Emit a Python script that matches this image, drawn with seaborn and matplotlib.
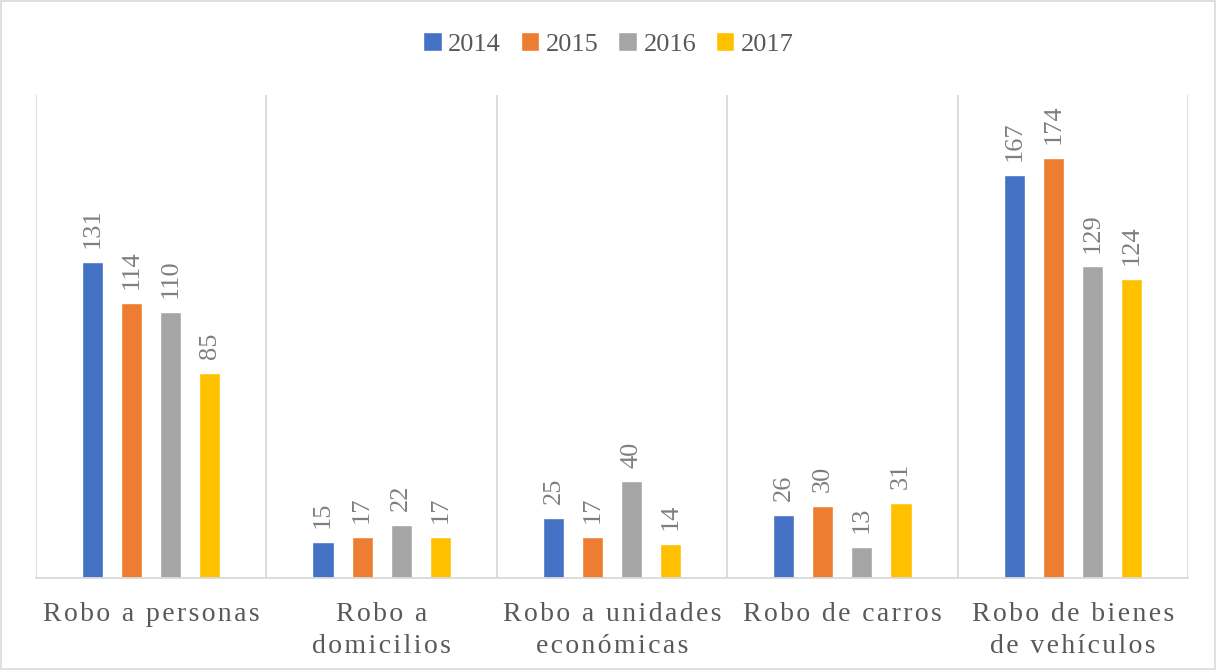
import matplotlib
matplotlib.use("Agg")
import matplotlib.pyplot as plt
import seaborn as sns
import pandas as pd
from matplotlib.patches import Rectangle

categories = ["Robo a personas", "Robo a\ndomicilios", "Robo a unidades\neconómicas",
              "Robo de carros", "Robo de bienes\nde vehículos"]
years = ["2014", "2015", "2016", "2017"]
v2014 = [131, 15, 25, 26, 167]
v2015 = [114, 17, 17, 30, 174]
v2016 = [110, 22, 40, 13, 129]
v2017 = [85, 17, 14, 31, 124]
colors = ["#4472C4", "#ED7D31", "#A5A5A5", "#FFC000"]

rows = []
for year, vals in zip(years, [v2014, v2015, v2016, v2017]):
    for cat, v in zip(categories, vals):
        rows.append({"cat": cat, "year": year, "value": v})
df = pd.DataFrame(rows)

sns.set_style("white")
plt.rcParams['font.family'] = ['Liberation Serif', 'DejaVu Serif']

HS = "\u200a"  # hair space, for the wide letter spacing


def spaced(s):
    return "\n".join(HS.join(line) for line in s.split("\n"))


fig = plt.figure(figsize=(12.17, 6.70), dpi=100)
ax = fig.add_axes([36 / 1217, 1 - 578 / 670, (1188 - 36) / 1217, (578 - 95) / 670])

sns.barplot(data=df, x="cat", y="value", hue="year", palette=colors,
            width=0.678, gap=0.46, saturation=1, ax=ax, legend=True)

ax.set_ylim(0, 200)
ax.set_xlim(-0.5, 4.5)
for b in [-0.5, 0.5, 1.5, 2.5, 3.5, 4.5]:
    ax.axvline(b, color="#d9d9d9", lw=1.3, zorder=0)
for s in ["top", "right", "left"]:
    ax.spines[s].set_visible(False)
ax.spines["bottom"].set_color("#d9d9d9")
ax.spines["bottom"].set_linewidth(1.3)
ax.set_yticks([])
ax.set_xlabel("")
ax.set_ylabel("")
ax.set_xticks(range(len(categories)))
ax.set_xticklabels([spaced(c) for c in categories], fontsize=20, color="#595959",
                   linespacing=1.4)
ax.tick_params(axis="x", length=0, pad=17)

for cont in ax.containers:
    for p in cont:
        h = p.get_height()
        ax.annotate(f"{h:.0f}", (p.get_x() + p.get_width() / 2, h),
                    xytext=(0, 10), textcoords="offset points",
                    rotation=90, ha="center", va="bottom",
                    fontsize=19, color="#7f7f7f")

handles, labels = ax.get_legend_handles_labels()
ax.legend_.remove()
fig.legend(handles, labels, loc="center", bbox_to_anchor=(0.5, 1 - 44 / 670), ncol=4,
           frameon=False, fontsize=19, handlelength=0.7, handleheight=0.7,
           handletextpad=0.25, columnspacing=0.75, labelcolor="#595959")

fig.patches.append(Rectangle((0.001, 0.002), 0.997, 0.996, transform=fig.transFigure,
                             fill=False, edgecolor="#d9d9d9", lw=1.2))

fig.savefig("out.png", dpi=100)
